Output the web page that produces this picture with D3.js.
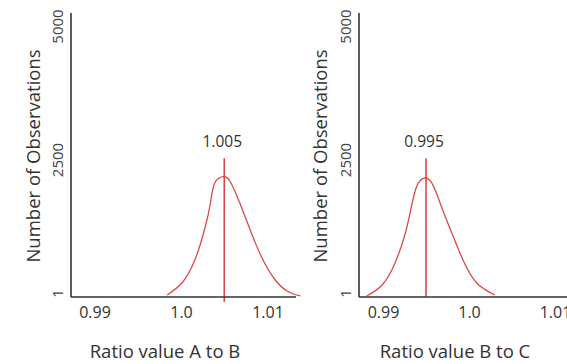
<!DOCTYPE html>
<html>
<head>
<meta charset="utf-8">
<script src="https://cdn.jsdelivr.net/npm/d3@7"></script>
<style>
  body { margin: 0; background: #fff; }
  svg { display: block; font-family: "Open Sans", sans-serif; }
</style>
</head>
<body>
<div id="chart"></div>
<script>
// tick values
const xTicks = [0.99, 1.0, 1.01];
const xTickLabels = ["0.99", "1.0", "1.01"];
const yTicks = [1, 2500, 5000];

// curve A to B
const abRatio = [0.9984, 1.0001, 1.0016, 1.0028, 1.0034, 1.0039, 1.0049, 1.0057, 1.0068, 1.0080, 1.0093, 1.0109, 1.0124, 1.0138];
const abCount = [37, 262, 693, 1311, 1760, 2135, 2253, 2159, 1760, 1255, 755, 318, 99, 19];
const abMean = 1.005;

// curve B to C
const bcRatio = [0.9881, 0.9899, 0.9914, 0.9926, 0.9933, 0.9939, 0.9947, 0.9957, 0.9968, 0.9980, 0.9993, 1.0009, 1.0030];
const bcCount = [19, 225, 637, 1199, 1691, 2066, 2223, 2129, 1691, 1199, 693, 262, 37];
const bcMean = 0.995;

const meanLineTop = 2600;
const xTitles = ["Ratio value A to B", "Ratio value B to C"];
const yTitle = "Number of Observations";

const w = 567;
const h = 364;
const baseline = 297;
const axisTop = 13;

const svg = d3.select("#chart")
    .append("svg")
    .attr("width", w)
    .attr("height", h);

const y = d3.scaleLinear()
    .domain([0, 5000])
    .range([baseline, 30]);

const panels = [
    { ratio: abRatio, count: abCount, mean: abMean, title: xTitles[0],
      left: 71, right: 296, range: [94.5, 267.5], lineLow: -90, yTitleX: 39.5, xTitleX: 165 },
    { ratio: bcRatio, count: bcCount, mean: bcMean, title: xTitles[1],
      left: 359, right: 567, range: [383, 555], lineLow: 0, yTitleX: 326.5, xTitleX: 455 }
];

panels.forEach(p => {
    const x = d3.scaleLinear().domain([0.99, 1.01]).range(p.range);
    const g = svg.append("g");

    // red distribution curve
    const line = d3.line()
        .x((d, i) => x(p.ratio[i]))
        .y(d => y(d))
        .curve(d3.curveNatural);

    g.append("path")
        .datum(p.count)
        .attr("d", line)
        .attr("fill", "none")
        .attr("stroke", "#e04848")
        .attr("stroke-width", 1.3);

    // mean marker
    g.append("line")
        .attr("x1", x(p.mean))
        .attr("x2", x(p.mean))
        .attr("y1", y(p.lineLow))
        .attr("y2", y(meanLineTop))
        .attr("stroke", "#e04848")
        .attr("stroke-width", 1.6);

    g.append("text")
        .attr("x", x(p.mean) - 2)
        .attr("y", 147)
        .attr("text-anchor", "middle")
        .attr("font-size", "15.5px")
        .attr("fill", "#333")
        .text(d3.format(".3f")(p.mean));

    // axes lines
    g.append("line")
        .attr("x1", p.left).attr("x2", p.left)
        .attr("y1", axisTop).attr("y2", baseline)
        .attr("stroke", "#333").attr("stroke-width", 1.6);
    g.append("line")
        .attr("x1", p.left).attr("x2", p.right)
        .attr("y1", baseline).attr("y2", baseline)
        .attr("stroke", "#333").attr("stroke-width", 1.6);

    const xAxis = g.append("g")
        .attr("transform", `translate(0,${baseline})`)
        .call(d3.axisBottom(x).tickValues(xTicks).tickSize(0)
            .tickFormat((d, i) => xTickLabels[i]));
    xAxis.select(".domain").remove();
    xAxis.selectAll("text")
        .attr("y", 21)
        .attr("dy", 0)
        .attr("font-family", "Open Sans, sans-serif")
        .attr("font-size", "16px")
        .attr("fill", "#333");

    const yAxis = g.append("g")
        .attr("transform", `translate(${p.left},0)`)
        .call(d3.axisLeft(y).tickValues(yTicks).tickSize(0).tickFormat(d3.format("d")));
    yAxis.select(".domain").remove();
    yAxis.selectAll("text")
        .attr("transform", "rotate(-90)")
        .attr("text-anchor", "middle")
        .attr("x", 4)
        .attr("y", -8)
        .attr("dy", 0)
        .attr("font-family", "Open Sans, sans-serif")
        .attr("font-size", "15px")
        .attr("fill", "#444");

    // titles
    g.append("text")
        .attr("transform", `translate(${p.yTitleX},156) rotate(-90)`)
        .attr("text-anchor", "middle")
        .attr("font-size", "18.5px")
        .attr("fill", "#333")
        .text(yTitle);

    g.append("text")
        .attr("x", p.xTitleX)
        .attr("y", 358)
        .attr("text-anchor", "middle")
        .attr("font-size", "18.5px")
        .attr("fill", "#333")
        .text(p.title);
});
</script>
</body>
</html>
